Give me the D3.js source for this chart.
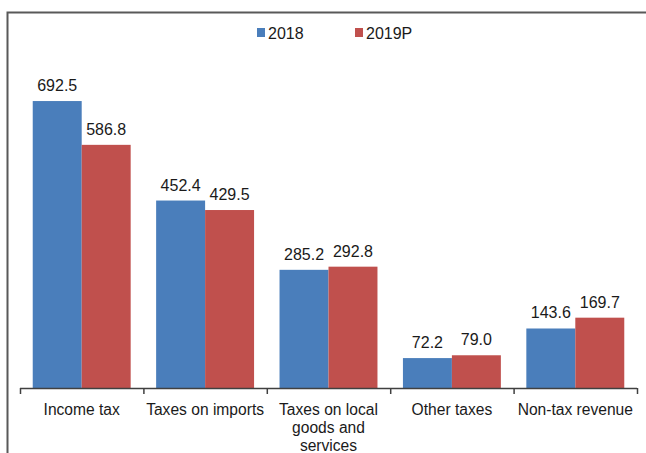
<!DOCTYPE html>
<html>
<head>
<meta charset="utf-8">
<script src="https://cdn.jsdelivr.net/npm/d3@7"></script>
<style>
  html, body { margin: 0; padding: 0; background: #fff; }
  svg { display: block; font-family: "Liberation Sans", Arial, sans-serif; }
</style>
</head>
<body>
<svg id="chart" width="646" height="453"></svg>
<script>
// Revenue by source (billions), 2018 vs 2019 provisional
const categories = [
  ["Income tax"],
  ["Taxes on imports"],
  ["Taxes on local", "goods and", "services"],
  ["Other taxes"],
  ["Non-tax revenue"]
];
const seriesNames = ["2018", "2019P"];
const values2018 = [692.5, 452.4, 285.2, 72.2, 143.6];
const values2019P = [586.8, 429.5, 292.8, 79.0, 169.7];
const seriesColors = ["#4a7ebb", "#c0504d"];

const svg = d3.select("#chart");

// outer frame (continues past the right and bottom edges)
svg.append("rect")
  .attr("x", 7.5).attr("y", 12.5)
  .attr("width", 700).attr("height", 500)
  .attr("fill", "none").attr("stroke", "#595959").attr("stroke-width", 2);

const x0 = d3.scaleBand()
  .domain(d3.range(categories.length))
  .range([20, 637])
  .paddingInner(0).paddingOuter(0);

const x1 = d3.scaleBand()
  .domain(d3.range(seriesNames.length))
  .range([0, x0.bandwidth()])
  .paddingOuter(0.26).paddingInner(0);

const y = d3.scaleLinear().domain([0, 800]).range([388, 56.5]);

const series = [values2018, values2019P];

const groups = svg.append("g").selectAll("g")
  .data(categories.map((c, i) => i))
  .join("g")
  .attr("transform", i => `translate(${x0(i)},0)`);

groups.selectAll("rect")
  .data(i => series.map((s, k) => ({ k, v: s[i] })))
  .join("rect")
  .attr("x", d => x1(d.k))
  .attr("y", d => y(d.v))
  .attr("width", x1.bandwidth())
  .attr("height", d => y(0) - y(d.v))
  .attr("fill", d => seriesColors[d.k]);

groups.selectAll("text.val")
  .data(i => series.map((s, k) => ({ k, v: s[i] })))
  .join("text")
  .attr("class", "val")
  .attr("x", d => x1(d.k) + x1.bandwidth() / 2)
  .attr("y", d => y(d.v) - 10)
  .attr("text-anchor", "middle")
  .attr("font-size", 16)
  .attr("fill", "#1a1a1a")
  .text(d => d.v.toFixed(1));

// category axis with ticks at group boundaries
const axisG = svg.append("g");
axisG.append("line")
  .attr("x1", x0.range()[0]).attr("x2", x0.range()[1])
  .attr("y1", 388.5).attr("y2", 388.5)
  .attr("stroke", "#404040").attr("stroke-width", 1.5);
axisG.selectAll("line.tick")
  .data(d3.range(categories.length + 1))
  .join("line")
  .attr("class", "tick")
  .attr("x1", i => 20.5 + i * x0.bandwidth())
  .attr("x2", i => 20.5 + i * x0.bandwidth())
  .attr("y1", 388).attr("y2", 394)
  .attr("stroke", "#404040").attr("stroke-width", 1.5);

axisG.selectAll("text")
  .data(categories)
  .join("text")
  .attr("x", (c, i) => x0(i) + x0.bandwidth() / 2)
  .attr("y", 415)
  .attr("text-anchor", "middle")
  .attr("font-size", 15.6)
  .attr("fill", "#1a1a1a")
  .selectAll("tspan")
  .data(c => c)
  .join("tspan")
  .attr("x", function() { return d3.select(this.parentNode).attr("x"); })
  .attr("dy", (d, j) => j === 0 ? 0 : 18)
  .text(d => d);

// legend
const legend = svg.append("g");
const legendX = [257, 355];
seriesNames.forEach((name, k) => {
  legend.append("rect")
    .attr("x", legendX[k]).attr("y", 28)
    .attr("width", 8).attr("height", 9)
    .attr("fill", seriesColors[k]);
  legend.append("text")
    .attr("x", legendX[k] + 11).attr("y", 39)
    .attr("font-size", 16)
    .attr("fill", "#1a1a1a")
    .text(name);
});
</script>
</body>
</html>
